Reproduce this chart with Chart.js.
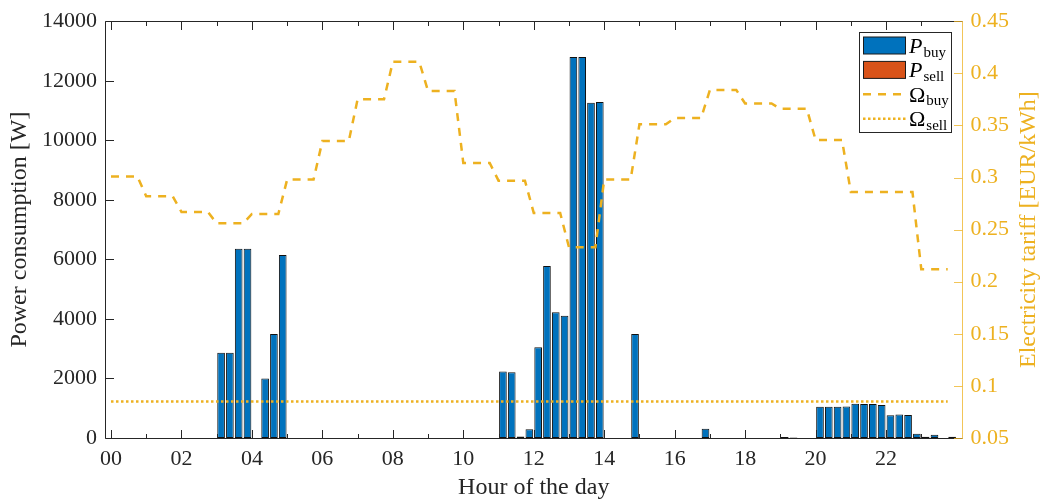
<!DOCTYPE html>
<html lang="en">
<head>
<meta charset="UTF-8">
<title>Power consumption and electricity tariff</title>
<script src="https://cdn.jsdelivr.net/npm/chart.js"></script>
<style>
  body { margin: 0; background: #fff; }
  #wrap { width: 1041px; height: 503px; }
</style>
</head>
<body>
<div id="wrap"><canvas id="power-chart" width="1041" height="503"></canvas></div>
<script>
// x tick labels (every 2 hours)
const hourTickLabels = ['00', '02', '04', '06', '08', '10', '12', '14', '16', '18', '20', '22'];

// power bought per 15 min slot [W], 96 slots
const powerBuy = [
  0, 0, 0, 0, 0, 0, 0, 0, 0, 0, 0, 0,
  2860, 2860, 6360, 6360, 0, 2000, 3490, 6150, 0, 0, 0, 0,
  0, 0, 0, 0, 0, 0, 0, 0, 0, 0, 0, 0,
  0, 0, 0, 0, 0, 0, 0, 0, 2230, 2210, 50, 290,
  3050, 5780, 4220, 4110, 12800, 12800, 11260, 11290, 0, 0, 0, 3490,
  0, 0, 0, 0, 0, 0, 0, 310, 0, 0, 0, 0,
  0, 0, 0, 0, 30, 15, 0, 0, 1050, 1050, 1050, 1060,
  1150, 1140, 1140, 1110, 760, 790, 770, 140, 40, 110, 0, 45
];

// power sold per 15 min slot [W]
const powerSell = [
  0, 0, 0, 0, 0, 0, 0, 0, 0, 0, 0, 0,
  0, 0, 0, 0, 0, 0, 0, 0, 0, 0, 0, 0,
  0, 0, 0, 0, 0, 0, 0, 0, 0, 0, 0, 0,
  0, 0, 0, 0, 0, 0, 0, 0, 0, 0, 0, 0,
  0, 0, 0, 0, 0, 0, 0, 0, 0, 0, 0, 0,
  0, 0, 0, 0, 0, 0, 0, 0, 0, 0, 0, 0,
  0, 0, 0, 0, 0, 0, 0, 0, 0, 0, 0, 0,
  0, 0, 0, 0, 0, 0, 0, 0, 0, 0, 0, 0
];

// buying tariff per 15 min slot [EUR/kWh]
const tariffBuy = [
  0.301, 0.301, 0.301, 0.301, 0.282, 0.282, 0.282, 0.282, 0.267, 0.267, 0.267, 0.267,
  0.256, 0.256, 0.256, 0.256, 0.265, 0.265, 0.265, 0.265, 0.298, 0.298, 0.298, 0.298,
  0.335, 0.335, 0.335, 0.335, 0.375, 0.375, 0.375, 0.375, 0.411, 0.411, 0.411, 0.411,
  0.383, 0.383, 0.383, 0.383, 0.314, 0.314, 0.314, 0.314, 0.297, 0.297, 0.297, 0.297,
  0.266, 0.266, 0.266, 0.266, 0.233, 0.233, 0.233, 0.233, 0.298, 0.298, 0.298, 0.298,
  0.351, 0.351, 0.351, 0.351, 0.357, 0.357, 0.357, 0.357, 0.384, 0.384, 0.384, 0.384,
  0.371, 0.371, 0.371, 0.371, 0.366, 0.366, 0.366, 0.366, 0.336, 0.336, 0.336, 0.336,
  0.286, 0.286, 0.286, 0.286, 0.286, 0.286, 0.286, 0.286, 0.212, 0.212, 0.212, 0.212
];

// selling tariff per 15 min slot [EUR/kWh]
const tariffSell = [
  0.085, 0.085, 0.085, 0.085, 0.085, 0.085, 0.085, 0.085, 0.085, 0.085, 0.085, 0.085,
  0.085, 0.085, 0.085, 0.085, 0.085, 0.085, 0.085, 0.085, 0.085, 0.085, 0.085, 0.085,
  0.085, 0.085, 0.085, 0.085, 0.085, 0.085, 0.085, 0.085, 0.085, 0.085, 0.085, 0.085,
  0.085, 0.085, 0.085, 0.085, 0.085, 0.085, 0.085, 0.085, 0.085, 0.085, 0.085, 0.085,
  0.085, 0.085, 0.085, 0.085, 0.085, 0.085, 0.085, 0.085, 0.085, 0.085, 0.085, 0.085,
  0.085, 0.085, 0.085, 0.085, 0.085, 0.085, 0.085, 0.085, 0.085, 0.085, 0.085, 0.085,
  0.085, 0.085, 0.085, 0.085, 0.085, 0.085, 0.085, 0.085, 0.085, 0.085, 0.085, 0.085,
  0.085, 0.085, 0.085, 0.085, 0.085, 0.085, 0.085, 0.085, 0.085, 0.085, 0.085, 0.085
];

const blue = '#0072BD';
const orange = '#D95319';
const gold = '#EDB120';
const axisColor = '#262626';
const serif = '"Liberation Serif", "Times New Roman", serif';
const tariffTitle = 'Electricity tariff [EUR/kWh]';

// slot start in hours; bars sit in the middle of their slot
const slotStart = i => i / 4;
const barPoints = arr => arr.map((v, i) => ({ x: slotStart(i) + 0.125, y: v }));
const linePoints = arr => arr.map((v, i) => ({ x: slotStart(i), y: v }));

const legendItems = [
  { main: 'P', sub: 'buy', italic: true, kind: 'box', color: blue },
  { main: 'P', sub: 'sell', italic: true, kind: 'box', color: orange },
  { main: 'Ω', sub: 'buy', italic: false, kind: 'dash', color: gold },
  { main: 'Ω', sub: 'sell', italic: false, kind: 'dot', color: gold }
];

// MATLAB style box with inward ticks, right title and legend
const matlabAxes = {
  id: 'matlabAxes',
  afterDatasetsDraw(chart) {
    const { ctx, chartArea: a, scales: { x, y, y1 } } = chart;
    ctx.save();
    ctx.lineWidth = 1;
    ctx.strokeStyle = axisColor;
    ctx.beginPath();
    const L = Math.round(a.left) + 0.5, R = Math.round(a.right) - 0.5;
    const T = Math.round(a.top) + 0.5, B = Math.round(a.bottom) + 0.5;
    ctx.moveTo(L, T); ctx.lineTo(L, B);
    ctx.moveTo(L, B); ctx.lineTo(R, B);
    ctx.moveTo(L, T); ctx.lineTo(R, T);
    for (let h = 0; h < 24; h++) {
      const px = Math.round(x.getPixelForValue(h)) + 0.5;
      const len = h % 2 === 0 ? 8.5 : 4.5;
      ctx.moveTo(px, B); ctx.lineTo(px, B - len);
      ctx.moveTo(px, T); ctx.lineTo(px, T + len);
    }
    y.ticks.forEach(t => {
      const py = Math.round(y.getPixelForValue(t.value)) + 0.5;
      ctx.moveTo(L, py); ctx.lineTo(L + 8.5, py);
    });
    ctx.stroke();

    ctx.strokeStyle = 'rgba(237, 177, 32, 0.75)';
    ctx.beginPath();
    ctx.moveTo(R, T); ctx.lineTo(R, B);
    y1.ticks.forEach(t => {
      const py = Math.round(y1.getPixelForValue(t.value)) + 0.5;
      ctx.moveTo(R, py); ctx.lineTo(R - 8.5, py);
    });
    ctx.stroke();
    ctx.restore();
  },
  afterDraw(chart) {
    const { ctx, chartArea: a } = chart;
    ctx.save();
    // right axis title, reading bottom to top
    ctx.translate(1029, (a.top + a.bottom) / 2);
    ctx.rotate(-Math.PI / 2);
    ctx.fillStyle = gold;
    ctx.font = '24px ' + serif;
    ctx.textAlign = 'center';
    ctx.textBaseline = 'middle';
    ctx.fillText(tariffTitle, 0, 0);
    ctx.restore();

    const bx = 859.5, by = 32.5, bw = 92, bh = 100;
    ctx.save();
    ctx.fillStyle = '#fff';
    ctx.fillRect(bx, by, bw, bh);
    ctx.strokeStyle = axisColor;
    ctx.lineWidth = 1;
    ctx.strokeRect(bx, by, bw, bh);
    legendItems.forEach((item, k) => {
      const cy = by + 13 + k * 24.4;
      if (item.kind === 'box') {
        ctx.fillStyle = item.color;
        ctx.fillRect(863.5, cy - 8.5, 42, 17);
        ctx.strokeStyle = '#1a1a1a';
        ctx.setLineDash([]);
        ctx.strokeRect(863.5, cy - 8.5, 42, 17);
      } else {
        ctx.strokeStyle = item.color;
        ctx.lineWidth = 2.5;
        ctx.setLineDash(item.kind === 'dash' ? [8, 7] : [2.5, 2.5]);
        ctx.beginPath();
        ctx.moveTo(863, cy); ctx.lineTo(906, cy);
        ctx.stroke();
        ctx.lineWidth = 1;
        ctx.setLineDash([]);
      }
      ctx.fillStyle = '#000';
      ctx.textBaseline = 'alphabetic';
      ctx.font = (item.italic ? 'italic ' : '') + '22px ' + serif;
      ctx.fillText(item.main, 909, cy + 7.5);
      const w = ctx.measureText(item.main).width;
      ctx.font = '15px ' + serif;
      ctx.fillText(item.sub, 909 + w + 1, cy + 11);
    });
    ctx.restore();
  }
};

const chartCtx = document.getElementById('power-chart').getContext('2d');

new Chart(chartCtx, {
  data: {
    datasets: [
      {
        type: 'bar',
        label: 'P buy',
        data: barPoints(powerBuy),
        backgroundColor: blue,
        borderColor: '#111',
        borderWidth: 1,
        borderSkipped: false,
        grouped: false,
        categoryPercentage: 1,
        barPercentage: 0.87,
        yAxisID: 'y',
        order: 2
      },
      {
        type: 'bar',
        label: 'P sell',
        data: barPoints(powerSell),
        backgroundColor: orange,
        borderColor: '#111',
        borderWidth: 1,
        borderSkipped: false,
        grouped: false,
        categoryPercentage: 1,
        barPercentage: 0.87,
        yAxisID: 'y',
        order: 2
      },
      {
        type: 'line',
        label: 'Ω buy',
        data: linePoints(tariffBuy),
        borderColor: gold,
        borderWidth: 2.5,
        borderDash: [8, 7],
        pointRadius: 0,
        tension: 0,
        yAxisID: 'y1',
        order: 1
      },
      {
        type: 'line',
        label: 'Ω sell',
        data: linePoints(tariffSell),
        borderColor: gold,
        borderWidth: 2.5,
        borderDash: [2.5, 2.5],
        pointRadius: 0,
        tension: 0,
        yAxisID: 'y1',
        order: 1
      }
    ]
  },
  options: {
    responsive: false,
    animation: false,
    layout: { padding: { top: 20, left: 0, right: 0, bottom: 0 } },
    plugins: {
      legend: { display: false },
      tooltip: { enabled: false }
    },
    scales: {
      x: {
        type: 'linear',
        offset: false,
        min: -0.17,
        max: 24.17,
        grid: { display: false, drawTicks: false, offset: false },
        border: { display: false },
        ticks: {
          stepSize: 1,
          includeBounds: false,
          autoSkip: false,
          maxRotation: 0,
          padding: 8,
          color: axisColor,
          font: { family: serif, size: 22 },
          callback: v => (v % 2 === 0 && v < 24 ? hourTickLabels[v / 2] : '')
        },
        title: {
          display: true,
          text: 'Hour of the day',
          color: axisColor,
          font: { family: serif, size: 24 },
          padding: { top: 0, bottom: 1 }
        },
        afterFit: s => { s.height = 65; }
      },
      y: {
        position: 'left',
        min: 0,
        max: 14000,
        grid: { display: false, drawTicks: false },
        border: { display: false },
        ticks: {
          stepSize: 2000,
          padding: 8,
          color: axisColor,
          font: { family: serif, size: 22 },
          callback: v => String(v)
        },
        title: {
          display: true,
          text: 'Power consumption [W]',
          color: axisColor,
          font: { family: serif, size: 24 },
          padding: { top: 5, bottom: 0 }
        },
        afterFit: s => { s.width = 105; }
      },
      y1: {
        position: 'right',
        min: 0.05,
        max: 0.45,
        grid: { display: false, drawTicks: false },
        border: { display: false },
        ticks: {
          stepSize: 0.05,
          padding: 8,
          color: gold,
          font: { family: serif, size: 22 },
          callback: v => String(+v.toFixed(2))
        },
        title: { display: false },
        afterFit: s => { s.width = 78.5; }
      }
    }
  },
  plugins: [matlabAxes]
});
</script>
</body>
</html>
